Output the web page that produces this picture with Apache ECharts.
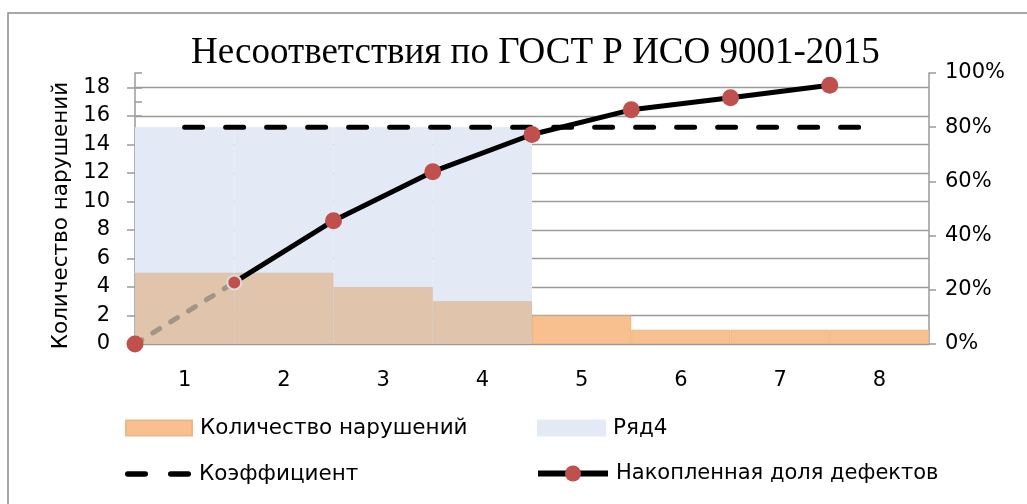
<!DOCTYPE html>
<html>
<head>
<meta charset="utf-8">
<script src="https://cdn.jsdelivr.net/npm/echarts@6/dist/echarts.min.js"></script>
<style>
  html, body { margin: 0; padding: 0; background: #ffffff; }
  #chart { width: 1027px; height: 504px; }
</style>
</head>
<body>
<div id="chart"></div>
<script>
// Pareto chart data
const categories = ['1', '2', '3', '4', '5', '6', '7', '8'];
const violations = [5, 5, 4, 3, 2, 1, 1, 1];                 // Количество нарушений
const vitalFew = [80, 80, 80, 80, null, null, null, null];   // Ряд4, %
const threshold = [80, 80, 80, 80, 80, 80, 80, 80];          // Коэффициент, %
const boundaries = ['0', '1', '2', '3', '4', '5', '6', '7', '8'];
const cumulativeShare = [0, 22.7, 45.5, 63.6, 77.3, 86.4, 90.9, 95.5]; // Накопленная доля дефектов, %

const GRID = '#9a9a9a';
const FONT = 'DejaVu Sans';
const ORANGE = '#f8c08e';
const TAN = '#e1c4ac';
const BLUE = '#e3eaf5';
const RED = '#c0504d';

const chart = echarts.init(document.getElementById('chart'), null, { renderer: 'canvas' });

// bars inside the "vital few" zone look darker where they overlap Ряд4
const violationData = violations.map((v, i) => ({
  value: v,
  itemStyle: vitalFew[i] != null ? { color: TAN, borderColor: '#d9c3b1' } : {}
}));

// the cumulative curve: point 0 lives on the dashed starter segment
const cumulativeData = cumulativeShare.map((v, i) => {
  if (i === 0) return '-';
  if (i === 1) return { value: v, symbolSize: 14, itemStyle: { borderColor: '#dcdcdc', borderWidth: 2 } };
  return v;
});
const starterData = cumulativeShare.map((v, i) => {
  if (i === 0) return { value: v, symbol: 'circle', symbolSize: 17 };
  if (i === 1) return { value: v, symbol: 'none' };
  return '-';
});

// legend glyph for the dashed threshold line: two rounded dashes
const dashIcon = 'path://M2.7,0 h17.6 a2.7,2.7 0 0 1 0,5.4 h-17.6 a2.7,2.7 0 0 1 0,-5.4 z ' +
                 'M45.7,0 h17.6 a2.7,2.7 0 0 1 0,5.4 h-17.6 a2.7,2.7 0 0 1 0,-5.4 z';

const legendText = { fontFamily: FONT, fontSize: 21.5, color: '#000', padding: [0, 0, 0, 3] };

chart.setOption({
  animation: false,
  backgroundColor: '#ffffff',
  graphic: [{
    type: 'rect',
    shape: { x: 8, y: 13, width: 1100, height: 600 },
    style: { fill: 'none', stroke: '#8c8c8c', lineWidth: 1.5 },
    silent: true
  }],
  title: {
    text: 'Несоответствия по ГОСТ Р ИСО 9001-2015',
    left: 186,
    top: 30,
    textStyle: { fontFamily: 'Liberation Serif', fontSize: 37, fontWeight: 'normal', color: '#000' }
  },
  legend: [
    { data: ['Количество нарушений'], left: 125, top: 417, icon: 'rect', itemWidth: 66, itemHeight: 15, padding: 0, selectedMode: false, textStyle: legendText },
    { data: ['Ряд4'], left: 537, top: 417, icon: 'rect', itemWidth: 67, itemHeight: 15, padding: 0, selectedMode: false, textStyle: legendText },
    { data: [{ name: 'Коэффициент', icon: dashIcon }], left: 125, top: 463, itemWidth: 66, itemHeight: 20, padding: 0, selectedMode: false, textStyle: legendText },
    { data: ['Накопленная доля дефектов'], left: 535, top: 463, itemWidth: 70, itemHeight: 20, padding: 0, selectedMode: false,
      lineStyle: { width: 6 }, textStyle: Object.assign({}, legendText, { fontSize: 21 }) }
  ],
  grid: { left: 135, right: 98, top: 73, bottom: 160, containLabel: false },
  xAxis: [
    {
      type: 'category',
      data: categories,
      axisLine: { show: true, lineStyle: { color: GRID, width: 1.5 } },
      axisTick: { show: false },
      axisLabel: { fontFamily: FONT, fontSize: 21, color: '#000', margin: 26 }
    },
    {
      type: 'category',
      data: boundaries,
      boundaryGap: false,
      show: false
    }
  ],
  yAxis: [
    {
      type: 'value',
      position: 'left',
      min: 0, max: 19, interval: 2,
      name: 'Количество нарушений',
      nameLocation: 'middle',
      nameGap: 60,
      nameTextStyle: { fontFamily: FONT, fontSize: 21.5, color: '#000', padding: [0, 14, 0, 0] },
      axisLine: { show: true, lineStyle: { color: GRID, width: 1.5 } },
      axisTick: { show: true, length: 8, lineStyle: { color: GRID, width: 1.5 } },
      axisLabel: { fontFamily: FONT, fontSize: 21, color: '#000', margin: 25, showMaxLabel: false },
      splitLine: { show: true, showMaxLine: false, lineStyle: { color: GRID, width: 1.3 } }
    },
    {
      type: 'value',
      position: 'right',
      min: 0, max: 100, interval: 20,
      axisLine: { show: true, lineStyle: { color: GRID, width: 1.5 } },
      axisTick: { show: true, length: 7, lineStyle: { color: GRID, width: 1.5 } },
      axisLabel: { fontFamily: FONT, fontSize: 21, color: '#000', margin: 16, formatter: '{value}%' },
      splitLine: { show: false }
    },
    {
      // minor ticks of the count axis
      type: 'value',
      position: 'left',
      min: 0, max: 19, interval: 1,
      axisLine: { show: false },
      axisTick: { show: true, inside: true, length: 7, lineStyle: { color: GRID, width: 1.5 } },
      axisLabel: { show: false },
      splitLine: { show: false }
    }
  ],
  series: [
    {
      name: 'Ряд4',
      type: 'bar',
      xAxisIndex: 0,
      yAxisIndex: 1,
      data: vitalFew,
      barGap: '-100%',
      barCategoryGap: '0%',
      itemStyle: { color: BLUE, borderColor: BLUE, borderWidth: 1 },
      z: 1
    },
    {
      name: 'Количество нарушений',
      type: 'bar',
      xAxisIndex: 0,
      yAxisIndex: 0,
      data: violationData,
      barGap: '-100%',
      barCategoryGap: '0%',
      itemStyle: { color: ORANGE, borderColor: '#eeb585', borderWidth: 1 },
      z: 2
    },
    {
      name: 'Коэффициент',
      type: 'line',
      xAxisIndex: 0,
      yAxisIndex: 1,
      data: threshold,
      symbol: 'none',
      lineStyle: { color: '#000', width: 5, type: [18, 23], cap: 'round' },
      itemStyle: { color: '#000' },
      z: 3
    },
    {
      name: 'Начальный отрезок',
      type: 'line',
      xAxisIndex: 1,
      yAxisIndex: 1,
      data: starterData,
      lineStyle: { color: '#a29486', width: 5, type: [8, 13], cap: 'round' },
      itemStyle: { color: RED },
      z: 4
    },
    {
      name: 'Накопленная доля дефектов',
      type: 'line',
      xAxisIndex: 1,
      yAxisIndex: 1,
      data: cumulativeData,
      symbol: 'circle',
      symbolSize: 17,
      lineStyle: { color: '#000', width: 5 },
      itemStyle: { color: RED },
      z: 5
    }
  ]
});
</script>
</body>
</html>
